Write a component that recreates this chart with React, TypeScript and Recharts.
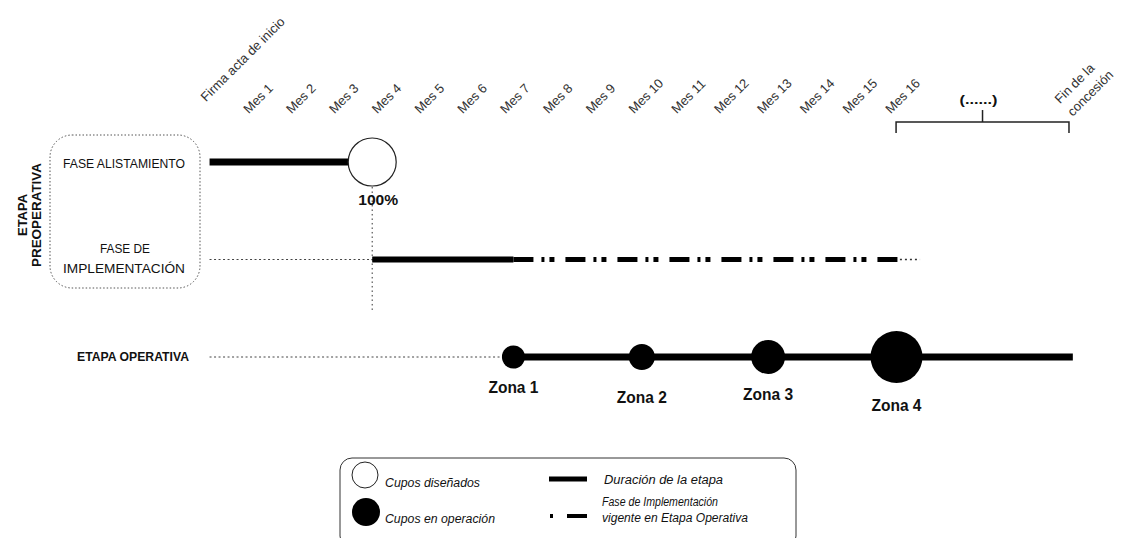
import React from 'react';
import { ComposedChart, Line, Scatter, XAxis, YAxis } from 'recharts';

const W = 1124;
const H = 538;
const FONT = '"Liberation Sans", Arial, sans-serif';

// ---- timeline ticks (months) ----
const tickLabels = [
  'Firma acta de inicio', 'Mes 1', 'Mes 2', 'Mes 3', 'Mes 4', 'Mes 5', 'Mes 6', 'Mes 7', 'Mes 8',
  'Mes 9', 'Mes 10', 'Mes 11', 'Mes 12', 'Mes 13', 'Mes 14', 'Mes 15', 'Mes 16',
];
const tickMonths = [0, 1, 2, 3, 4, 5, 6, 7, 8, 9, 10, 11, 12, 13, 14, 15, 16];
const endLabelLines = ['Fin de la', 'concesión'];
const endMonth = 20;
const ellipsisLabel = '(......)';
const bracketStart = 16.24;
const bracketEnd = 20.28;

// ---- rows ----
const rowAlistamiento = 0;
const rowImplementacion = 1;
const rowOperativa = 2;
const rowTickLabels = -0.49;
const rowBracket = -0.41;
const rowBracketEnds = -0.297;
const rowBracketTop = -0.533;
const rowGuideTop = 0.256;
const rowGuideBottom = 1.52;

// ---- phases (months) ----
const leaderStart = 0.2;
const alistamientoStart = 0.2;
const alistamientoEnd = 4;
const designedMonth = 4;
const designedLabel = '100%';
const implementacionStart = 4;
const implementacionSolidEnd = 7.3;
const implementacionDashEnd = 16.33;
const implementacionTailEnd = 16.8;
const operativaStart = 7.3;
const operativaEnd = 20.37;

// ---- zones ----
const zoneLabels = ['Zona 1', 'Zona 2', 'Zona 3', 'Zona 4'];
const zoneMonths = [7.3, 10.3, 13.25, 16.25];

// ---- styles ----
const zoneRadius = [11.5, 13, 17, 26];
const zoneLabelDy = [24, 33, 26, 28];
const X_MIN = -201 / 42.8;
const X_MAX = (W - 201) / 42.8;
const Y_MIN = -162 / 97.5;
const Y_MAX = (H - 162) / 97.5;

const seg = (x1: number, y1: number, x2: number, y2: number) => [
  { x: x1, y: y1 },
  { x: x2, y: y2 },
];

const tickData = tickLabels.map((label, i) => ({ x: tickMonths[i], y: rowTickLabels, label, i }));
const endData = [{ x: endMonth, y: rowTickLabels }];
const ellipsisData = [{ x: (bracketStart + bracketEnd) / 2, y: rowBracketTop }];
const designedData = [{ x: designedMonth, y: rowAlistamiento }];
const zoneData = zoneLabels.map((label, i) => ({ x: zoneMonths[i], y: rowOperativa, label, i }));

const TickShape = (p: any) => {
  const { cx, cy, payload } = p;
  const x = cx + 5;
  const y = cy + (payload.i === 0 ? -12 : 0);
  return (
    <text x={x} y={y} transform={`rotate(-45 ${x} ${y})`} fontSize={13} fill="#333" fontFamily={FONT}>
      {payload.label}
    </text>
  );
};

const EndShape = (p: any) => {
  const { cx, cy } = p;
  const x = cx + 3;
  const y = cy - 10;
  return (
    <text transform={`rotate(-45 ${x} ${y})`} x={x} y={y} fontSize={13} fill="#333" fontFamily={FONT}>
      <tspan x={x} y={y}>{endLabelLines[0]}</tspan>
      <tspan x={x} dy={18}>{endLabelLines[1]}</tspan>
    </text>
  );
};

const EllipsisShape = (p: any) => {
  const { cx, cy } = p;
  return (
    <text x={cx - 4} y={cy - 6} textAnchor="middle" fontSize={13} fontWeight="bold" fill="#111" fontFamily={FONT} textLength={38} lengthAdjust="spacingAndGlyphs">
      {ellipsisLabel}
    </text>
  );
};

const DesignedShape = (p: any) => {
  const { cx, cy } = p;
  const r = 24;
  return (
    <g>
      <circle cx={cx} cy={cy} r={r} fill="#fff" stroke="#222" strokeWidth={1.2} />
      <text x={cx + 6} y={cy + r + 19} textAnchor="middle" fontSize={15} fontWeight="bold" fill="#111" fontFamily={FONT} textLength={40} lengthAdjust="spacingAndGlyphs">
        {designedLabel}
      </text>
    </g>
  );
};

const ZoneShape = (p: any) => {
  const { cx, cy, payload } = p;
  const r = zoneRadius[payload.i];
  return (
    <g>
      <circle cx={cx} cy={cy} r={r} fill="#000" />
      <text x={cx} y={cy + r + zoneLabelDy[payload.i]} textAnchor="middle" fontSize={16} fontWeight="bold" fill="#111" fontFamily={FONT} textLength={50} lengthAdjust="spacingAndGlyphs">
        {payload.label}
      </text>
    </g>
  );
};

const Overlay = () => (
  <svg width={W} height={H} style={{ position: 'absolute', left: 0, top: 0, pointerEvents: 'none' }}>
    {/* Preoperativa group */}
    <rect x={50} y={135} width={150} height={153} rx={22} fill="none" stroke="#555" strokeWidth={1} strokeDasharray="1.5 2" />
    <text x={27} y={215} transform="rotate(-90 27 215)" textAnchor="middle" fontSize={13} fontWeight="bold" fill="#111" fontFamily={FONT} textLength={42} lengthAdjust="spacingAndGlyphs">ETAPA</text>
    <text x={41} y={215} transform="rotate(-90 41 215)" textAnchor="middle" fontSize={13} fontWeight="bold" fill="#111" fontFamily={FONT} textLength={104} lengthAdjust="spacingAndGlyphs">PREOPERATIVA</text>
    <text x={124} y={168} textAnchor="middle" fontSize={13} fill="#111" fontFamily={FONT} textLength={122} lengthAdjust="spacingAndGlyphs">FASE ALISTAMIENTO</text>
    <text x={125} y={253} textAnchor="middle" fontSize={13} fill="#111" fontFamily={FONT} textLength={50} lengthAdjust="spacingAndGlyphs">FASE DE</text>
    <text x={124} y={273} textAnchor="middle" fontSize={13} fill="#111" fontFamily={FONT} textLength={122} lengthAdjust="spacingAndGlyphs">IMPLEMENTACIÓN</text>
    <text x={77} y={361} fontSize={12} fontWeight="bold" fill="#111" fontFamily={FONT} textLength={112} lengthAdjust="spacingAndGlyphs">ETAPA OPERATIVA</text>

    {/* Legend */}
    <rect x={340} y={458} width={456} height={90} rx={12} fill="none" stroke="#333" strokeWidth={1} />
    <circle cx={365} cy={475} r={13} fill="#fff" stroke="#222" strokeWidth={1} />
    <text x={385} y={487} fontSize={12} fontStyle="italic" fill="#111" fontFamily={FONT} textLength={95} lengthAdjust="spacingAndGlyphs">Cupos diseñados</text>
    <circle cx={366} cy={512} r={14} fill="#000" />
    <text x={385} y={523} fontSize={12} fontStyle="italic" fill="#111" fontFamily={FONT} textLength={110} lengthAdjust="spacingAndGlyphs">Cupos en operación</text>
    <line x1={549} y1={479} x2={587} y2={479} stroke="#000" strokeWidth={5} />
    <text x={604} y={484} fontSize={12} fontStyle="italic" fill="#111" fontFamily={FONT} textLength={119} lengthAdjust="spacingAndGlyphs">Duración de la etapa</text>
    <rect x={550} y={514} width={3} height={4} fill="#000" />
    <line x1={567} y1={516} x2={587} y2={516} stroke="#000" strokeWidth={4} />
    <text x={602} y={506} fontSize={12} fontStyle="italic" fill="#111" fontFamily={FONT} textLength={116} lengthAdjust="spacingAndGlyphs">Fase de Implementación</text>
    <text x={602} y={522} fontSize={12} fontStyle="italic" fill="#111" fontFamily={FONT} textLength={146} lengthAdjust="spacingAndGlyphs">vigente en Etapa Operativa</text>
  </svg>
);

export default function App() {
  const common = { dataKey: 'y', dot: false, activeDot: false, isAnimationActive: false, legendType: 'none' as const };
  return (
    <div style={{ position: 'absolute', left: 0, top: 0, width: W, height: H, background: '#fff' }}>
      <ComposedChart width={W} height={H} margin={{ top: 0, right: 0, bottom: 0, left: 0 }}>
        <XAxis type="number" dataKey="x" domain={[X_MIN, X_MAX]} allowDataOverflow hide height={0} />
        <YAxis type="number" dataKey="y" domain={[Y_MIN, Y_MAX]} allowDataOverflow reversed hide width={0} />

        {/* leaders */}
        <Line {...common} data={seg(leaderStart, rowImplementacion, implementacionStart, rowImplementacion)} stroke="#444" strokeWidth={1} strokeDasharray="2 2.5" />
        <Line {...common} data={seg(leaderStart, rowOperativa, operativaStart, rowOperativa)} stroke="#444" strokeWidth={1} strokeDasharray="2 2.5" />
        <Line {...common} data={seg(designedMonth, rowGuideTop, designedMonth, rowGuideBottom)} stroke="#333" strokeWidth={1} strokeDasharray="1.5 3" />

        {/* fase alistamiento */}
        <Line {...common} data={seg(alistamientoStart, rowAlistamiento, alistamientoEnd, rowAlistamiento)} stroke="#000" strokeWidth={7} />

        {/* fase implementación */}
        <Line {...common} data={seg(implementacionStart, rowImplementacion, implementacionSolidEnd, rowImplementacion)} stroke="#000" strokeWidth={6} />
        <Line {...common} data={seg(implementacionSolidEnd, rowImplementacion, implementacionDashEnd, rowImplementacion)} stroke="#000" strokeWidth={5} strokeDasharray="20 8 3 5 5 11" />
        <Line {...common} data={seg(implementacionDashEnd, rowImplementacion, implementacionTailEnd, rowImplementacion)} stroke="#333" strokeWidth={1.5} strokeDasharray="2 3" />

        {/* etapa operativa */}
        <Line {...common} data={seg(operativaStart, rowOperativa, operativaEnd, rowOperativa)} stroke="#000" strokeWidth={7} />

        {/* bracket */}
        <Line {...common} data={[
          { x: bracketStart, y: rowBracketEnds },
          { x: bracketStart, y: rowBracket },
          { x: bracketEnd, y: rowBracket },
          { x: bracketEnd, y: rowBracketEnds },
        ]} stroke="#222" strokeWidth={1.5} />
        <Line {...common} data={seg((bracketStart + bracketEnd) / 2, rowBracketTop, (bracketStart + bracketEnd) / 2, rowBracket)} stroke="#222" strokeWidth={1.5} />

        <Scatter data={tickData} shape={TickShape} isAnimationActive={false} legendType="none" />
        <Scatter data={endData} shape={EndShape} isAnimationActive={false} legendType="none" />
        <Scatter data={ellipsisData} shape={EllipsisShape} isAnimationActive={false} legendType="none" />
        <Scatter data={designedData} shape={DesignedShape} isAnimationActive={false} legendType="none" />
        <Scatter data={zoneData} shape={ZoneShape} isAnimationActive={false} legendType="none" />
      </ComposedChart>
      <Overlay />
    </div>
  );
}
